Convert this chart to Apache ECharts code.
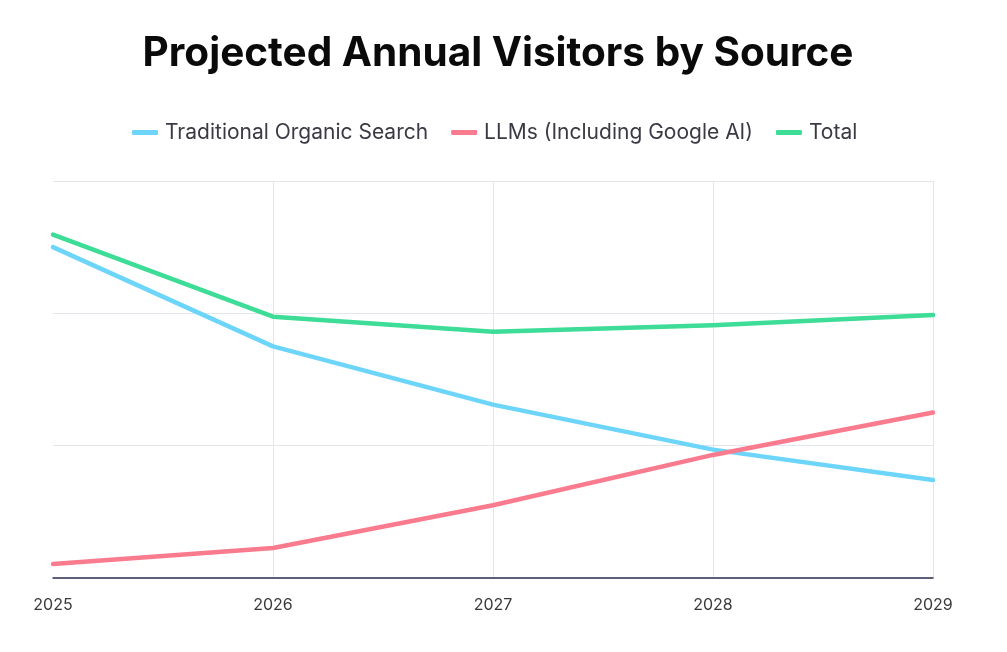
<!DOCTYPE html>
<html>
<head>
<meta charset="utf-8">
<script src="https://cdn.jsdelivr.net/npm/echarts@6/dist/echarts.min.js"></script>
<style>
html,body{margin:0;padding:0;background:#fff;}
#chart{width:1007px;height:652px;}
</style>
</head>
<body>
<div id="chart"></div>
<script>
const years = ['2025', '2026', '2027', '2028', '2029'];
const traditional = [250, 175, 131, 97, 74];
const llms = [10.5, 22.7, 55, 93, 125];
const total = [259.5, 197.5, 186, 191, 198.7];
const seriesNames = ['Traditional Organic Search', 'LLMs (Including Google AI)', 'Total'];
const colors = ['#6dd5fa', '#fb7b8e', '#3ddc97'];

const chart = echarts.init(document.getElementById('chart'));
const mk = (name, data, color) => ({
  name, type: 'line', data, symbol: 'none', smooth: false,
  lineStyle: { width: 4.5, color, cap: 'round', join: 'round' },
  itemStyle: { color }
});
chart.setOption({
  animation: false,
  backgroundColor: '#fff',
  title: {
    text: 'Projected Annual Visitors by Source',
    left: 493, top: 28, textAlign: 'center',
    textStyle: { fontFamily: 'Inter', fontWeight: 700, fontSize: 40.5, color: '#0a0a0a' }
  },
  legend: {
    top: 117, left: 127,
    icon: 'roundRect', itemWidth: 26, itemHeight: 5, itemGap: 23,
    textStyle: { fontFamily: 'Inter', fontSize: 21, color: '#3a3a44', padding: [0, 0, 0, 2] },
    data: seriesNames
  },
  grid: { left: 53, right: 74, top: 181, bottom: 74, containLabel: false },
  xAxis: {
    type: 'category', data: years, boundaryGap: false,
    axisLine: { lineStyle: { color: '#2d3150', width: 1.5 } },
    axisTick: { show: false },
    axisLabel: { fontFamily: 'Inter', fontSize: 16, color: '#3a3a3a', margin: 19,
      alignMinLabel: 'center', alignMaxLabel: 'center' },
    splitLine: { show: true, showMinLine: false, lineStyle: { color: '#e3e6ec', width: 1 } }
  },
  yAxis: {
    type: 'value', min: 0, max: 300, interval: 100,
    axisLine: { show: false }, axisTick: { show: false }, axisLabel: { show: false },
    splitLine: { show: true, lineStyle: { color: '#e3e6ec', width: 1 } }
  },
  series: [
    mk(seriesNames[0], traditional, colors[0]),
    mk(seriesNames[1], llms, colors[1]),
    mk(seriesNames[2], total, colors[2])
  ]
});
</script>
</body>
</html>
